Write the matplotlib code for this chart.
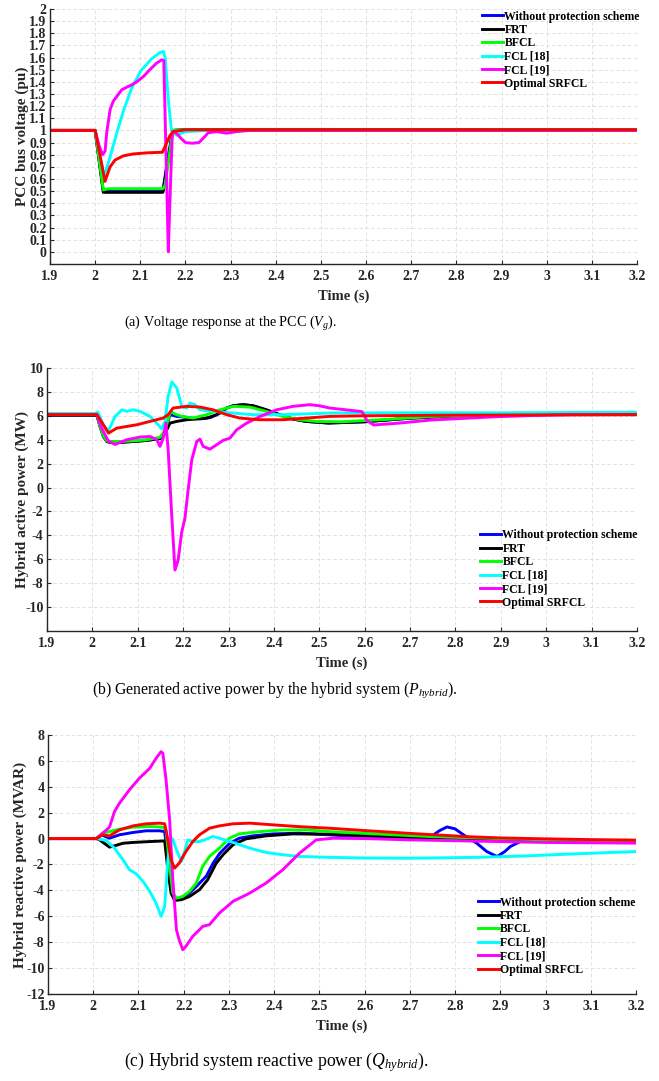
import numpy as np
import matplotlib
matplotlib.use("Agg")
import matplotlib.pyplot as plt
from matplotlib.ticker import FuncFormatter

plt.rcParams['font.family'] = ['Liberation Serif', 'DejaVu Serif']
plt.rcParams['font.weight'] = 'bold'
plt.rcParams['mathtext.fontset'] = 'custom'
plt.rcParams['mathtext.rm'] = 'Liberation Serif:weight=normal'
plt.rcParams['mathtext.it'] = 'Liberation Serif:style=italic:weight=normal'

labels = ['Without protection scheme', 'FRT', 'BFCL', 'FCL [18]', 'FCL [19]', 'Optimal SRFCL']
colors = ['#0000ff', '#000000', '#00ff00', '#00ffff', '#ff00ff', '#ff0000']

# ---- (a) PCC voltage (pu)
ta_blue = [1.9, 2.0, 2.018, 2.15, 2.16, 2.172, 2.2, 2.3, 2.5, 3.2]
va_blue = [1.0, 1.0, 0.5, 0.5, 0.75, 1.0, 1.005, 1.008, 1.008, 1.005]
ta_black = [1.9, 2.0, 2.018, 2.15, 2.172, 2.2, 2.3, 3.2]
va_black = [1.0, 1.0, 0.49, 0.49, 1.0, 1.005, 1.008, 1.005]
ta_green = [1.9, 2.0, 2.018, 2.03, 2.15, 2.155, 2.172, 2.2, 3.2]
va_green = [1.0, 1.0, 0.51, 0.52, 0.52, 0.55, 1.0, 1.005, 1.005]
ta_cyan = [1.9, 2.0, 2.0196, 2.033, 2.048, 2.062, 2.081, 2.101, 2.125, 2.1435, 2.151, 2.155,
           2.162, 2.169, 2.18, 2.19, 2.2, 2.25, 3.2]
va_cyan = [1.0, 1.0, 0.62, 0.78, 0.98, 1.155, 1.35, 1.49, 1.59, 1.64, 1.65, 1.6,
           1.25, 1.0, 0.96, 0.975, 0.99, 1.0, 1.0]
ta_mag = [1.9, 2.0, 2.009, 2.0166, 2.022, 2.0255, 2.033, 2.040, 2.048, 2.059, 2.07, 2.081,
          2.092, 2.107, 2.121, 2.136, 2.147, 2.152, 2.162, 2.1657, 2.171, 2.18, 2.19, 2.2,
          2.215, 2.23, 2.243, 2.25, 2.269, 2.291, 2.313, 2.343, 3.2]
va_mag = [1.0, 1.0, 0.87, 0.8, 0.83, 0.98, 1.17, 1.24, 1.28, 1.335, 1.356, 1.375,
          1.40, 1.444, 1.5, 1.554, 1.58, 1.575, 0.0, 0.43, 0.99, 0.977, 0.935, 0.9,
          0.894, 0.9, 0.95, 0.98, 0.99, 0.977, 0.99, 1.0, 1.0]
ta_red = [1.9, 2.0, 2.0218, 2.033, 2.044, 2.062, 2.084, 2.114, 2.149, 2.158, 2.166, 2.173, 2.2, 3.2]
va_red = [1.0, 1.0, 0.58, 0.70, 0.756, 0.79, 0.806, 0.815, 0.82, 0.895, 0.96, 0.99, 1.005, 1.005]

# ---- (b) hybrid active power (MW)
tb_blue = [1.9, 2.01, 2.017, 2.0245, 2.032, 2.039, 2.061, 2.09, 2.12, 2.149, 2.16, 2.171, 2.186,
           2.2, 2.22, 2.24, 2.26, 2.28, 2.296, 2.31, 2.332, 2.354, 2.383, 2.413, 2.442, 2.471,
           2.52, 2.6, 2.7, 2.8, 2.9, 3.0, 3.2]
pb_blue = [6.05, 6.05, 5.1, 4.27, 3.85, 3.8, 3.8, 3.85, 3.95, 4.1, 4.6, 6.1, 5.95,
           5.9, 5.8, 5.75, 5.85, 6.2, 6.65, 6.84, 6.93, 6.84, 6.5, 6.09, 5.73, 5.53,
           5.4, 5.5, 5.8, 6.0, 6.05, 6.1, 6.1]
tb_black = [1.9, 2.01, 2.017, 2.0245, 2.032, 2.039, 2.061, 2.09, 2.12, 2.149, 2.16, 2.171, 2.186,
            2.208, 2.23, 2.252, 2.274, 2.296, 2.31, 2.332, 2.354, 2.383, 2.413, 2.442, 2.471,
            2.52, 2.6, 2.7, 2.8, 2.9, 3.0, 3.2]
pb_black = [6.05, 6.05, 5.1, 4.27, 3.85, 3.77, 3.77, 3.85, 3.94, 4.1, 4.5, 5.39, 5.53,
            5.67, 5.73, 5.81, 6.09, 6.65, 6.84, 6.93, 6.84, 6.5, 6.09, 5.73, 5.53,
            5.39, 5.5, 5.8, 6.0, 6.05, 6.1, 6.1]
tb_green = [1.9, 2.01, 2.017, 2.0245, 2.032, 2.039, 2.061, 2.09, 2.12, 2.149, 2.16, 2.172, 2.185,
            2.197, 2.222, 2.252, 2.281, 2.31, 2.347, 2.383, 2.42, 2.457, 2.493, 2.55, 2.65,
            2.75, 2.85, 3.0, 3.2]
pb_green = [6.1, 6.1, 5.1, 4.3, 3.9, 3.85, 3.85, 3.9, 4.0, 4.2, 4.8, 6.35, 6.1,
            5.95, 5.81, 6.09, 6.5, 6.79, 6.73, 6.37, 5.95, 5.67, 5.53, 5.5, 5.7,
            5.95, 6.05, 6.1, 6.1]
tb_cyan = [1.9, 2.005, 2.012, 2.0245, 2.035, 2.05, 2.065, 2.076, 2.09, 2.105, 2.127, 2.145, 2.153,
           2.16, 2.167, 2.175, 2.186, 2.197, 2.208, 2.215, 2.226, 2.237, 2.266, 2.31, 2.354,
           2.42, 2.523, 2.7, 2.9, 3.2]
pb_cyan = [6.2, 6.2, 6.3, 5.25, 4.7, 5.95, 6.5, 6.37, 6.5, 6.37, 5.95, 5.25, 4.89,
           5.53, 7.63, 8.83, 8.32, 6.79, 6.65, 7.07, 6.93, 6.5, 6.37, 6.23, 6.09,
           6.09, 6.23, 6.25, 6.25, 6.3]
tb_mag = [1.9, 2.01, 2.02, 2.035, 2.05, 2.076, 2.105, 2.127, 2.142, 2.149, 2.156, 2.162, 2.167,
          2.175, 2.182, 2.189, 2.197, 2.204, 2.211, 2.219, 2.23, 2.237, 2.244, 2.259, 2.274,
          2.288, 2.303, 2.318, 2.34, 2.37, 2.406, 2.442, 2.479, 2.5, 2.523, 2.594, 2.605,
          2.62, 2.67, 2.748, 2.82, 2.895, 2.97, 3.05, 3.2]
pb_mag = [6.1, 6.1, 5.0, 3.9, 3.6, 4.0, 4.22, 4.27, 4.0, 3.44, 4.13, 5.4, 3.16,
          -2.43, -6.9, -6.06, -3.69, -2.57, -0.2, 2.32, 3.85, 4.05, 3.44, 3.21, 3.58,
          3.94, 4.13, 4.83, 5.39, 5.95, 6.5, 6.79, 6.93, 6.84, 6.65, 6.35, 5.6,
          5.23, 5.37, 5.65, 5.79, 5.93, 6.02, 6.1, 6.1]
tb_red = [1.9, 2.01, 2.02, 2.0355, 2.054, 2.076, 2.098, 2.127, 2.156, 2.167, 2.178, 2.208, 2.237,
          2.266, 2.296, 2.325, 2.369, 2.42, 2.523, 2.6, 2.8, 3.2]
pb_red = [6.1, 6.1, 5.5, 4.55, 4.97, 5.11, 5.25, 5.53, 5.81, 6.09, 6.65, 6.79, 6.73,
          6.5, 6.09, 5.81, 5.67, 5.67, 5.95, 6.0, 6.05, 6.1]

# ---- (c) hybrid reactive power (MVAR)
tc_blue = [1.9, 2.007, 2.018, 2.036, 2.058, 2.088, 2.117, 2.147, 2.158, 2.165, 2.172, 2.18, 2.198,
           2.213, 2.228, 2.25, 2.265, 2.28, 2.302, 2.323, 2.353, 2.397, 2.456, 2.522, 2.605,
           2.745, 2.765, 2.782, 2.8, 2.819, 2.848, 2.87, 2.893, 2.91, 2.922, 2.944, 3.0, 3.2]
qc_blue = [0, 0, 0.29, 0.03, 0.29, 0.47, 0.6, 0.6, 0.54, -1.64, -3.18, -4.72, -4.6,
           -4.2, -3.7, -2.9, -1.9, -1.13, -0.36, 0.03, 0.21, 0.36, 0.42, 0.29, 0.1,
           0.1, 0.6, 0.9, 0.75, 0.28, -0.36, -1.0, -1.39, -1.0, -0.62, -0.23, -0.15, -0.25]
tc_black = [1.9, 2.007, 2.014, 2.036, 2.047, 2.066, 2.088, 2.125, 2.158, 2.165, 2.172, 2.18, 2.195,
            2.213, 2.235, 2.253, 2.272, 2.287, 2.309, 2.338, 2.382, 2.441, 2.522, 2.7, 2.9, 3.2]
qc_black = [0, 0, -0.1, -0.66, -0.56, -0.36, -0.3, -0.23, -0.18, -2.4, -4.2, -4.78, -4.72,
            -4.47, -3.95, -3.18, -1.9, -1.25, -0.48, -0.02, 0.21, 0.36, 0.34, 0.1, -0.05, -0.2]
tc_green = [1.9, 2.007, 2.021, 2.036, 2.058, 2.088, 2.125, 2.154, 2.161, 2.169, 2.176, 2.184, 2.198,
            2.213, 2.228, 2.242, 2.257, 2.279, 2.301, 2.323, 2.368, 2.419, 2.471, 2.522, 2.6,
            2.75, 2.9, 3.0, 3.2]
qc_green = [0, 0, 0.42, 0.54, 0.72, 0.88, 0.93, 0.88, 0.67, -2.15, -4.2, -4.6, -4.47,
            -4.08, -3.44, -2.15, -1.38, -0.74, 0.03, 0.36, 0.54, 0.67, 0.67, 0.54, 0.4,
            0.15, 0.0, -0.1, -0.2]
tc_cyan = [1.9, 2.007, 2.029, 2.047, 2.066, 2.08, 2.095, 2.11, 2.125, 2.139, 2.15, 2.158, 2.165,
           2.172, 2.176, 2.184, 2.195, 2.202, 2.209, 2.22, 2.235, 2.25, 2.264, 2.279, 2.309,
           2.346, 2.382, 2.419, 2.456, 2.522, 2.6, 2.7, 2.85, 2.95, 3.05, 3.2]
qc_cyan = [0, 0, -0.15, -0.74, -1.64, -2.41, -2.72, -3.3, -4.08, -4.98, -6.0, -5.24, -1.64,
           0.03, -0.05, -0.87, -1.77, -1.0, -0.1, -0.23, -0.23, -0.05, 0.16, 0.03, -0.3,
           -0.74, -1.07, -1.25, -1.38, -1.45, -1.5, -1.52, -1.45, -1.35, -1.2, -1.0]
tc_mag = [1.9, 2.007, 2.021, 2.036, 2.047, 2.058, 2.08, 2.102, 2.125, 2.139, 2.15, 2.154, 2.161,
          2.169, 2.176, 2.184, 2.19, 2.198, 2.205, 2.22, 2.235, 2.242, 2.257, 2.279, 2.309,
          2.346, 2.382, 2.419, 2.456, 2.493, 2.531, 2.6, 2.7, 2.85, 3.0, 3.2]
qc_mag = [0, 0, 0.42, 0.88, 2.08, 2.73, 3.76, 4.66, 5.43, 6.2, 6.71, 6.59, 4.53,
          1.44, -3.18, -7.04, -7.81, -8.58, -8.32, -7.55, -7.04, -6.78, -6.65, -5.75, -4.85,
          -4.21, -3.44, -2.41, -1.13, -0.1, 0.03, 0.0, -0.1, -0.2, -0.3, -0.35]
tc_red = [1.9, 2.007, 2.021, 2.036, 2.058, 2.088, 2.117, 2.147, 2.158, 2.165, 2.172, 2.18, 2.19,
          2.205, 2.22, 2.235, 2.257, 2.279, 2.309, 2.346, 2.397, 2.456, 2.522, 2.6, 2.7,
          2.826, 2.9, 3.0, 3.1, 3.2]
qc_red = [0, 0, 0.29, 0.21, 0.67, 0.98, 1.14, 1.19, 1.14, -0.1, -1.64, -2.28, -1.9,
          -1.0, -0.23, 0.29, 0.8, 0.98, 1.14, 1.19, 1.06, 0.92, 0.8, 0.62, 0.4,
          0.15, 0.05, -0.02, -0.08, -0.12]

panels = [
    dict(rect=[0.0759, 0.7558, 0.8907, 0.2359], ylim=(-0.1, 2.0),
         yticks=np.round(np.arange(0, 2.01, 0.1), 1), ylabel='PCC bus voltage (pu)',
         series=[(ta_blue, va_blue), (ta_black, va_black), (ta_green, va_green),
                 (ta_cyan, va_cyan), (ta_mag, va_mag), (ta_red, va_red)],
         leg=(0.736, 0.994), ylab_x=-0.035),
    dict(rect=[0.0713, 0.4163, 0.8953, 0.2433], ylim=(-12, 10),
         yticks=np.arange(-10, 11, 2), ylabel='Hybrid active power (MW)',
         series=[(tb_blue, pb_blue), (tb_black, pb_black), (tb_green, pb_green),
                 (tb_cyan, pb_cyan), (tb_mag, pb_mag), (tb_red, pb_red)],
         leg=(0.734, 0.386), ylab_x=-0.03),
    dict(rect=[0.0728, 0.0805, 0.8923, 0.2396], ylim=(-12, 8),
         yticks=np.arange(-12, 9, 2), ylabel='Hybrid reactive power (MVAR)',
         series=[(tc_blue, qc_blue), (tc_black, qc_black), (tc_green, qc_green),
                 (tc_cyan, qc_cyan), (tc_mag, qc_mag), (tc_red, qc_red)],
         leg=(0.731, 0.376), ylab_x=-0.035),
]

# caption: (x centre, y centre, font size, text)
captions = [
    (0.349, 0.7012, 10.2, '(a) Voltage response at the PCC ($V_g$).'),
    (0.417, 0.3617, 11.3, '(b) Generated active power by the hybrid system ($P_{hybrid}$).'),
    (0.42, 0.0176, 12.8, '(c) Hybrid system reactive power ($Q_{hybrid}$).'),
]

fmt = FuncFormatter(lambda v, pos: f'{v:g}')

fig = plt.figure(figsize=(6.59, 10.81), dpi=100)
for p in panels:
    ax = fig.add_axes(p['rect'])
    for (t, y), c, lab in zip(p['series'], colors, labels):
        ax.plot(t, y, color=c, lw=2.1, label=lab)
    ax.set_xlim(1.9, 3.2)
    ax.set_ylim(*p['ylim'])
    ax.set_xticks(np.round(np.arange(1.9, 3.21, 0.1), 1))
    ax.set_yticks(p['yticks'])
    ax.xaxis.set_major_formatter(fmt)
    ax.yaxis.set_major_formatter(fmt)
    ax.spines['top'].set_visible(False)
    ax.spines['right'].set_visible(False)
    for s in ('left', 'bottom'):
        ax.spines[s].set_linewidth(1.0)
        ax.spines[s].set_color('#262626')
    ax.tick_params(direction='in', length=3, width=0.8, labelsize=10, colors='#262626')
    ax.tick_params(axis='x', pad=4)
    ax.tick_params(axis='y', pad=2.5)
    ax.grid(True, ls=(0, (4, 3)), color='#dcdcdc', lw=0.6)
    ax.set_axisbelow(True)
    ax.set_xlabel('Time (s)', fontsize=10.5, fontweight='bold', color='#262626', labelpad=5)
    ax.set_ylabel(p['ylabel'], fontsize=11, fontweight='bold', color='#262626')
    ax.yaxis.set_label_coords(p['ylab_x'], 0.5)
    ax.legend(loc='upper left', bbox_to_anchor=p['leg'], frameon=False,
              prop={'size': 8.5, 'weight': 'bold'}, handlelength=1.8, handletextpad=0.1,
              labelspacing=0.12, borderpad=0, borderaxespad=0)

for x, y, size, txt in captions:
    fig.text(x, y, txt, ha='center', va='center', fontsize=size, fontweight='normal')

fig.savefig('out.png', dpi=100)
